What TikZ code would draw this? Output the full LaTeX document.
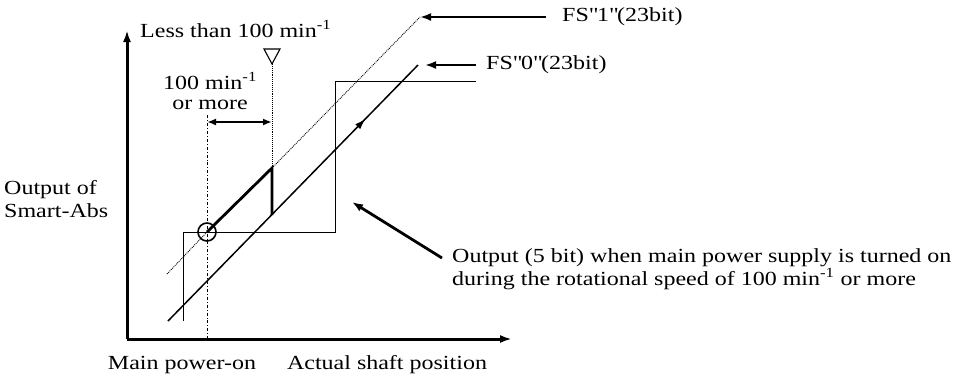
\documentclass[tikz,border=0pt]{standalone}
\usepackage{fontspec}
\setmainfont{Liberation Serif}[FakeStretch=1.2]
\usetikzlibrary{arrows.meta,decorations.markings}

\tikzset{
  axisline/.style={line width=3pt, -{Latex[length=12pt,width=8pt]}},
  pointer/.style={line width=2.8pt, -{Latex[length=11pt,width=8pt]}},
  thinline/.style={line width=0.9pt},
  lbl/.style={inner sep=0pt, font=\fontsize{20}{23}\selectfont}
}

\begin{document}
\begin{tikzpicture}[x=1pt,y=-1pt] % one unit per pixel, y downwards
    \useasboundingbox (0,0) rectangle (978,376);

    % axes
    \coordinate (O) at (127,339);
    \coordinate (Ytop) at (127,30);
    \coordinate (Xend) at (512,339);
    \draw[axisline] (O) -- (Ytop);
    \draw[axisline] (O) -- (Xend);

    % power-on position and the 100 min^-1 position
    \coordinate (P) at (207,232);
    \coordinate (Q) at (272,168);
    \coordinate (Qlow) at (272,215);
    \coordinate (Pbot) at (207,339);
    \coordinate (Ptop) at (207,115);
    \coordinate (Qtop) at (272,64);

    % === 5 bit output (step) ===
    \draw[thinline] (183,321) -- (183,232) -- (335,232) -- (335,81) -- (476,81);

    % === FS"0" line (solid) ===
    \coordinate (F0a) at (168,321);
    \coordinate (F0b) at (418,65);
    \draw[line width=1.5pt, decoration={markings, mark=at position 0.79 with {\arrow{Latex[length=11pt,width=7pt]}}}, postaction={decorate}] (F0a) -- (F0b);

    % === FS"1" line (dotted) ===
    \coordinate (F1a) at (167,274);
    \coordinate (F1b) at (420,17);
    \draw[thinline, densely dotted] (F1a) -- (P);
    \draw[thinline, densely dotted] (Q) -- (F1b);

    % output after power-on
    \draw[line width=2.8pt] (P) -- (Q) -- (Qlow);
    \draw[line width=1.6pt] (P) circle (9);

    % vertical guide lines
    \draw[thinline, dash dot] (Ptop) -- (Pbot);
    \draw[thinline, densely dotted] (Qtop) -- (Q);
    \draw[line width=1.1pt] (264,49) -- (280,49) -- (Qtop) -- cycle;

    % 100 min^-1 or more
    \draw[line width=1.8pt, {Latex[length=9pt,width=7pt]}-{Latex[length=9pt,width=7pt]}] (207,122) -- (272,122);

    % labels of the two lines
    \node[lbl, anchor=west] (fs1) at (562,17) {FS\textquotedbl 1\textquotedbl (23bit)};
    \node[lbl, anchor=west] (fs0) at (486,65) {FS\textquotedbl 0\textquotedbl (23bit)};
    \draw[pointer] (fs1.west) ++(-16,0) coordinate (fs1s) -- (420,17);
    \draw[pointer] (fs0.west) ++(-10,0) coordinate (fs0s) -- (425,65);

    % texts
    \node[lbl, anchor=west] (less) at (140,29) {Less than 100 min\textsuperscript{-1}};
    \node[lbl, align=center] (more) at (210,91) {100 min\textsuperscript{-1}\\[-3pt]or more};
    \node[lbl, align=left, anchor=west] (yl) at (4,199) {Output of\\Smart-Abs};
    \node[lbl] (mp) at (182,365) {Main power-on};
    \node[lbl] (xl) at (387,365) {Actual shaft position};
    \node[lbl, align=left, anchor=west] (note) at (452,269) {Output (5 bit) when main power supply is turned on\\during the rotational speed of 100 min\textsuperscript{-1} or more};
    \draw[pointer] (note.west) ++(-10,-11) coordinate (ns) -- (352,202);
\end{tikzpicture}
\end{document}
